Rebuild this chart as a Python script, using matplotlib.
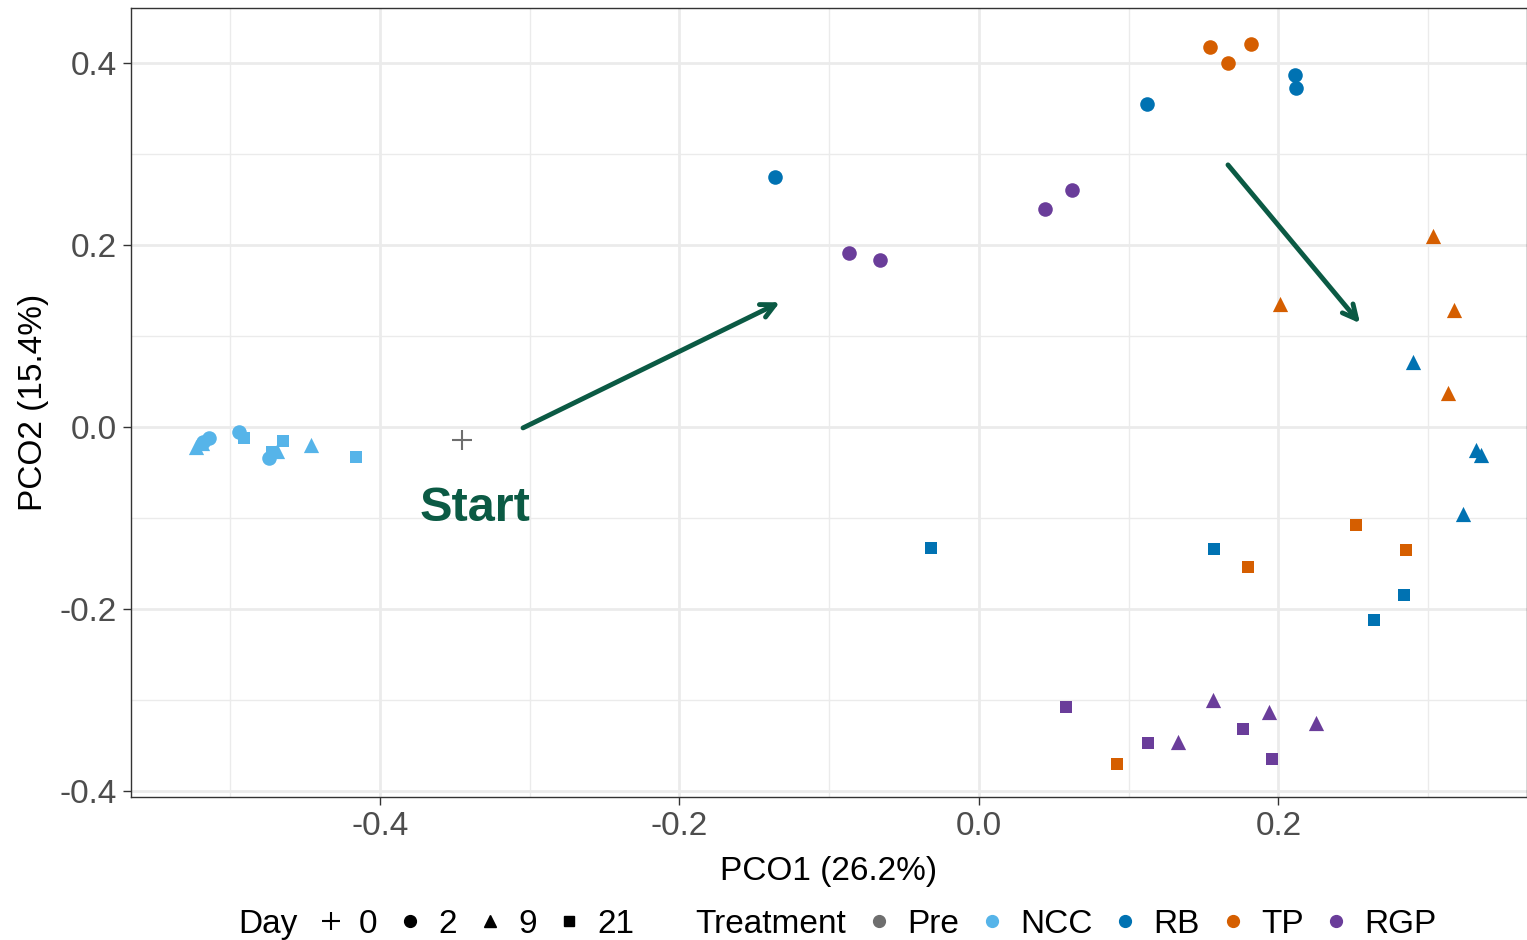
import matplotlib.pyplot as plt
import numpy as np
from matplotlib.lines import Line2D
from matplotlib.ticker import MultipleLocator, FuncFormatter

plt.rcParams['font.family'] = ['Liberation Sans', 'DejaVu Sans']

# PCoA coordinates per treatment (day of sampling alongside)
pre_pc1 = [-0.345]
pre_pc2 = [-0.014]
pre_day = [0]

ncc_pc1 = [-0.514, -0.518, -0.494, -0.474, -0.523, -0.519, -0.469, -0.446, -0.491, -0.465, -0.472, -0.416]
ncc_pc2 = [-0.012, -0.016, -0.006, -0.034, -0.022, -0.018, -0.026, -0.020, -0.012, -0.015, -0.028, -0.033]
ncc_day = [2, 2, 2, 2, 9, 9, 9, 9, 21, 21, 21, 21]

rb_pc1 = [-0.136, 0.112, 0.211, 0.212, 0.290, 0.332, 0.335, 0.323, -0.032, 0.157, 0.284, 0.264]
rb_pc2 = [0.275, 0.355, 0.387, 0.373, 0.071, -0.025, -0.031, -0.096, -0.133, -0.134, -0.185, -0.212]
rb_day = [2, 2, 2, 2, 9, 9, 9, 9, 21, 21, 21, 21]

tp_pc1 = [0.154, 0.166, 0.182, 0.303, 0.201, 0.317, 0.313, 0.252, 0.285, 0.180, 0.092]
tp_pc2 = [0.418, 0.400, 0.421, 0.210, 0.135, 0.129, 0.037, -0.108, -0.135, -0.154, -0.370]
tp_day = [2, 2, 2, 9, 9, 9, 9, 21, 21, 21, 21]

rgp_pc1 = [-0.087, -0.066, 0.044, 0.062, 0.156, 0.194, 0.225, 0.133, 0.058, 0.113, 0.176, 0.196]
rgp_pc2 = [0.191, 0.183, 0.240, 0.260, -0.300, -0.313, -0.325, -0.346, -0.308, -0.347, -0.332, -0.365]
rgp_day = [2, 2, 2, 2, 9, 9, 9, 9, 21, 21, 21, 21]

treatments = ['Pre', 'NCC', 'RB', 'TP', 'RGP']
days = [0, 2, 9, 21]

colors = {'Pre': '#6e6e6e', 'NCC': '#56B4E9', 'RB': '#0072B2', 'TP': '#D55E00', 'RGP': '#6A3D9A'}
markers = {0: '+', 2: 'o', 9: '^', 21: 's'}
sizes = {0: 220, 2: 110, 9: 120, 21: 85}

groups = {
    'Pre': (pre_pc1, pre_pc2, pre_day),
    'NCC': (ncc_pc1, ncc_pc2, ncc_day),
    'RB': (rb_pc1, rb_pc2, rb_day),
    'TP': (tp_pc1, tp_pc2, tp_day),
    'RGP': (rgp_pc1, rgp_pc2, rgp_day),
}

fig = plt.figure(figsize=(15.27, 9.40), dpi=100)
ax = fig.add_axes([0.0858, 0.1521, 0.9142, 0.8394])

for t in treatments:
    x, y, d = (np.array(v) for v in groups[t])
    for day in days:
        m = d == day
        if not m.any():
            continue
        if markers[day] == '+':
            ax.scatter(x[m], y[m], marker='+', s=sizes[day], color=colors[t],
                       linewidths=1.5, zorder=3)
        else:
            ax.scatter(x[m], y[m], marker=markers[day], s=sizes[day], color=colors[t],
                       linewidths=0, zorder=3)

# trajectory arrows
arrow_col = '#0b5a44'
arrow_style = '->,head_length=1.0,head_width=0.5'
ax.annotate('', xy=(-0.133, 0.137), xytext=(-0.3045, -0.001),
            arrowprops=dict(arrowstyle=arrow_style, color=arrow_col, lw=3.5,
                            shrinkA=0, shrinkB=0))
ax.annotate('', xy=(0.2545, 0.114), xytext=(0.1663, 0.288),
            arrowprops=dict(arrowstyle=arrow_style, color=arrow_col, lw=3.5,
                            shrinkA=0, shrinkB=0))
ax.text(-0.3365, -0.090, 'Start', color=arrow_col, fontsize=35, fontweight='bold',
        ha='center', va='center')

ax.set_xlim(-0.5663, 0.366)
ax.set_ylim(-0.4066, 0.4604)

ax.xaxis.set_major_locator(MultipleLocator(0.2))
ax.xaxis.set_minor_locator(MultipleLocator(0.1))
ax.yaxis.set_major_locator(MultipleLocator(0.2))
ax.yaxis.set_minor_locator(MultipleLocator(0.1))
fmt = FuncFormatter(lambda v, p: ('%.1f' % v) if abs(v) > 1e-9 else '0.0')
ax.xaxis.set_major_formatter(fmt)
ax.yaxis.set_major_formatter(fmt)

ax.grid(which='major', color='#ebebeb', lw=2.0, zorder=0)
ax.grid(which='minor', color='#ebebeb', lw=1.0, zorder=0)
ax.set_axisbelow(True)
ax.tick_params(which='major', length=6, width=1.0, color='#333333',
               labelsize=24, labelcolor='#4d4d4d', pad=4)
ax.tick_params(which='minor', length=0)
for s in ax.spines.values():
    s.set_color('#333333')
    s.set_linewidth(1.0)

ax.set_xlabel('PCO1 (26.2%)', fontsize=24, labelpad=10)
ax.set_ylabel('PCO2 (15.4%)', fontsize=24, labelpad=8)

# combined legend row: Day shapes then Treatment colours
blank = Line2D([], [], linestyle='none', marker=None)
handles = [blank,
           Line2D([], [], linestyle='none', marker='+', color='black', markersize=13, markeredgewidth=1.5),
           Line2D([], [], linestyle='none', marker='o', color='black', markersize=8.5),
           Line2D([], [], linestyle='none', marker='^', color='black', markersize=8.5),
           Line2D([], [], linestyle='none', marker='s', color='black', markersize=7.5),
           blank]
labels = ['Day', '0', '2', '9', '21', 'Treatment']
for t in treatments:
    handles.append(Line2D([], [], linestyle='none', marker='o', color=colors[t], markersize=8.5))
    labels.append(t)

fig.legend(handles, labels, loc='center', bbox_to_anchor=(0.535, 0.017), ncol=len(labels),
           frameon=False, fontsize=24, handlelength=0.8, handletextpad=0.45,
           columnspacing=0.58, borderpad=0)

fig.savefig('out.png', dpi=100)
